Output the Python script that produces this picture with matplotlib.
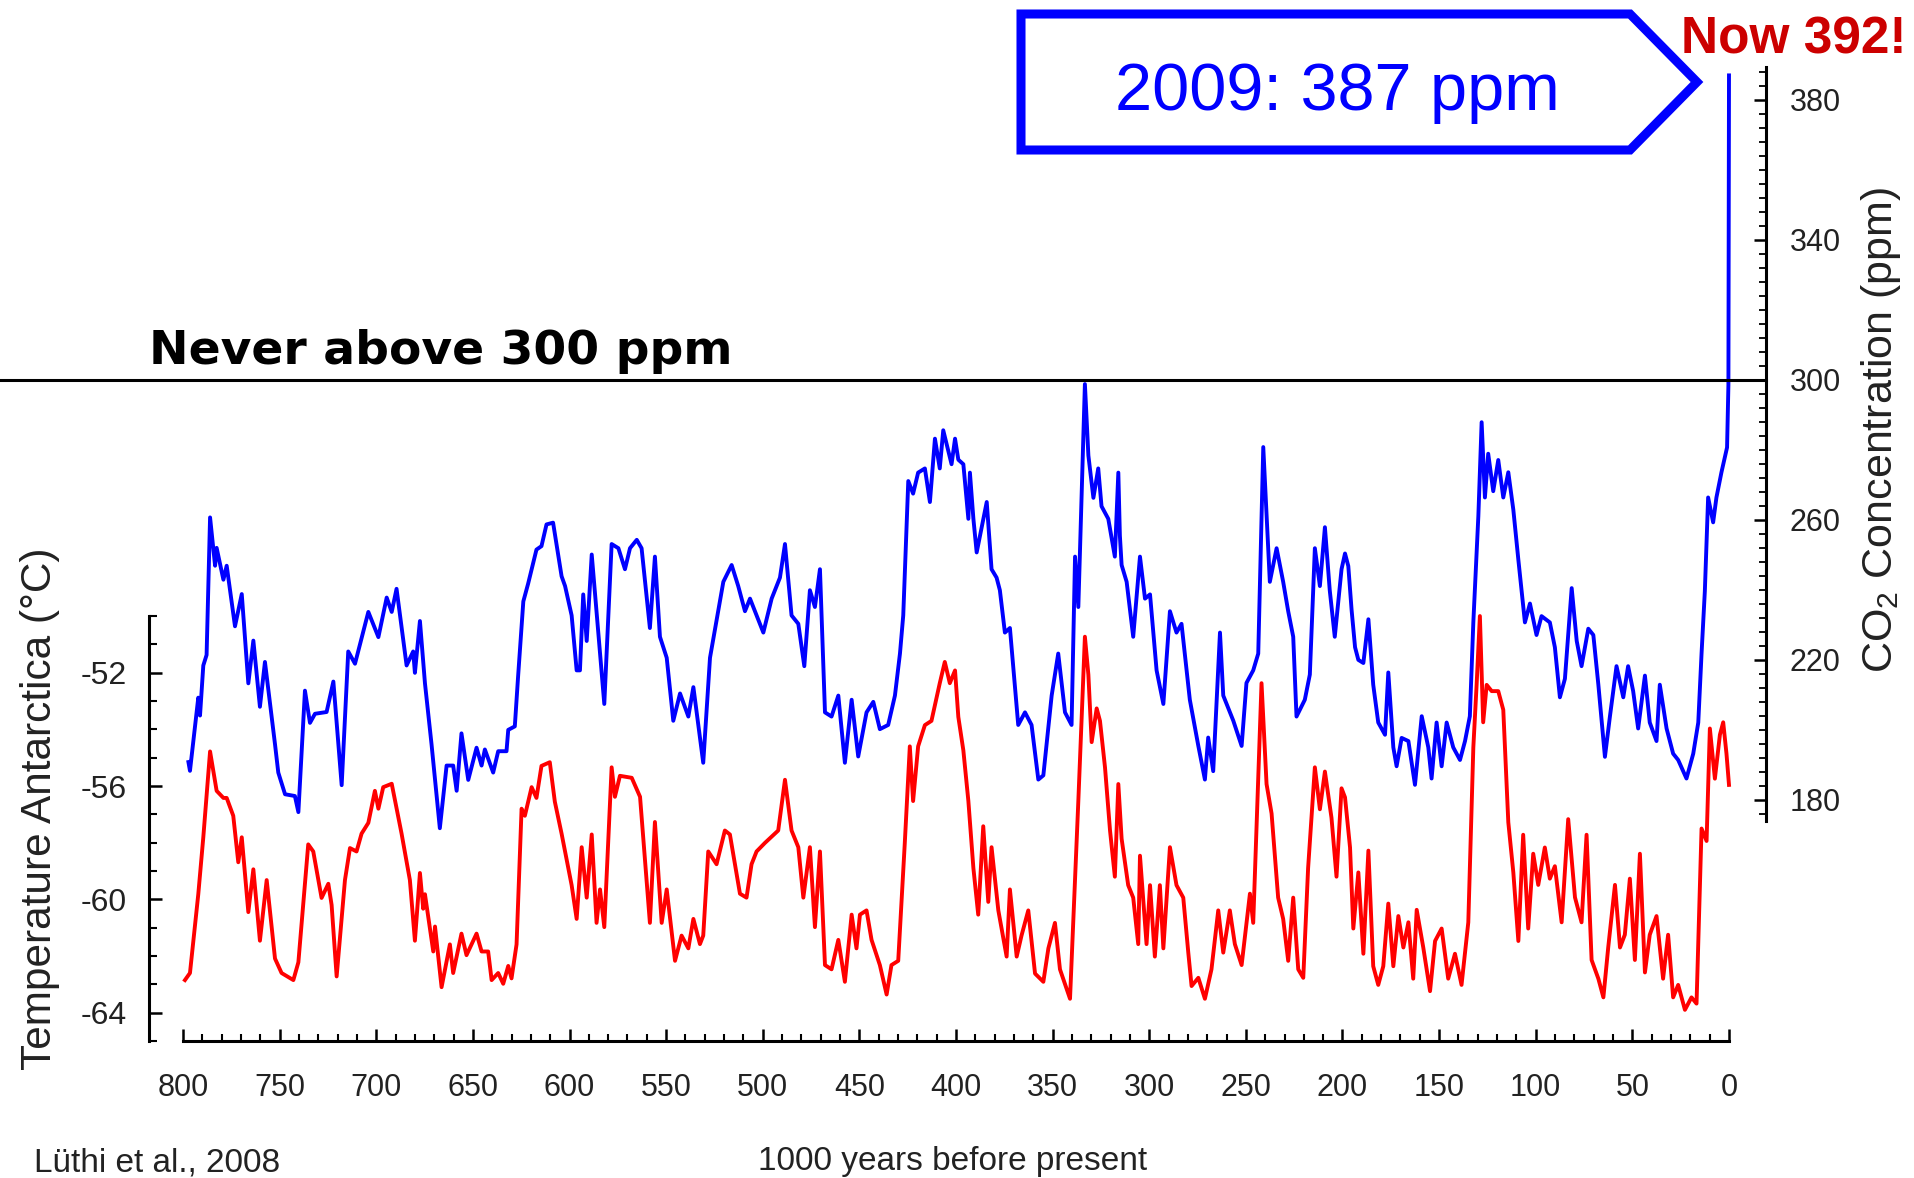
import numpy as np
import matplotlib
matplotlib.use("Agg")
import matplotlib.pyplot as plt
from matplotlib.ticker import FixedLocator
from matplotlib.patches import Polygon

# EPICA Dome C records, ages in kyr before present
co2_age = [
    797.2, 796.4, 792.1, 791.2, 789.5, 787.8, 786.0, 783.4, 782.6, 779.1,
    777.4, 773.1, 769.6, 766.2, 763.6, 760.2, 757.6, 752.4, 750.7, 747.2,
    742.1, 740.3, 736.9, 734.3, 731.7, 725.7, 722.2, 717.9, 714.5, 711.0,
    704.1, 698.9, 694.6, 692.0, 689.5, 684.3, 680.9, 680.0, 677.4, 674.8,
    671.4, 667.1, 663.6, 660.2, 658.4, 655.9, 652.4, 648.1, 645.5, 643.8,
    639.5, 636.9, 632.6, 631.7, 628.3, 626.6, 623.9, 621.4, 617.1, 614.5,
    611.9, 608.5, 604.1,
    602.3, 598.9, 596.3, 594.6, 592.9, 591.1, 588.5, 585.1, 582.0, 578.2,
    574.7, 571.3, 568.7, 565.2, 562.7, 558.4, 555.8, 553.2, 549.7, 546.3,
    542.8, 538.5, 535.9, 530.8, 527.3, 520.4, 516.1, 512.7, 509.2, 506.6,
    499.7, 495.4, 491.1, 488.5, 485.1, 481.6, 478.5, 475.6, 473.0, 470.4,
    467.8, 464.4, 460.9, 457.5, 454.0, 450.6, 446.3, 442.8, 439.4, 435.1,
    431.6, 429.0, 427.3, 424.7, 422.2, 419.6, 416.1, 413.5, 410.9, 408.4,
    406.6, 402.3,
    400.5, 398.8, 396.2, 393.6, 392.8, 391.0, 389.3, 386.7, 384.1, 381.6,
    379.0, 377.3, 374.7, 372.1, 367.8, 364.3, 360.9, 357.4, 354.8, 350.5,
    347.1, 343.6, 340.2, 338.4, 336.7, 333.3, 331.5, 328.9, 326.4, 324.7,
    321.2, 317.8, 316.0, 315.2, 314.3, 311.7, 308.3, 304.8, 302.2, 299.6,
    296.2, 292.7, 289.3, 285.9, 283.3, 279.0, 274.6, 271.2, 269.5, 266.9,
    263.4, 261.7, 256.5, 252.2, 249.7, 246.2, 243.6, 241.0, 237.6, 234.1,
    230.7, 228.1, 225.5, 223.8, 219.5, 216.9, 214.3, 211.7, 209.1, 206.6,
    204.0, 200.5,
    198.7, 197.0, 195.3, 193.5, 191.8, 189.2, 186.6, 184.1, 181.5, 178.0,
    176.3, 173.7, 172.0, 169.4, 165.9, 162.5, 159.0, 155.6, 153.9, 151.3,
    148.7, 146.1, 142.7, 139.2, 136.6, 134.1, 132.3, 129.7, 128.0, 126.3,
    124.6, 122.0, 119.4, 116.8, 114.2, 111.6, 109.0, 105.6, 103.0, 99.6,
    97.0, 92.7, 90.1, 87.5, 84.9, 81.4, 78.8, 76.3, 72.8, 70.2,
    67.6, 64.2, 61.6, 58.2, 54.7, 52.2, 49.6, 47.0, 43.5, 41.0,
    37.5, 35.8, 32.3, 28.9, 26.3, 22.0, 18.5, 15.9, 14.2, 12.5,
    10.8, 8.2, 6.5, 3.9, 1.0, 0.3, 0.0,
]
co2_ppm = [
    190.8, 188.3, 209.2, 204.1, 218.4, 221.4, 260.7, 246.9, 252.0, 242.9,
    246.9, 229.6, 238.8, 213.3, 225.5, 206.6, 219.4, 195.9, 187.8, 181.6,
    181.1, 176.5, 211.2, 202.0, 204.6, 205.1, 213.8, 184.2, 222.4, 218.9,
    233.7, 226.5, 237.8, 233.7, 240.3, 218.4, 222.4, 216.3, 231.1, 213.3,
    195.9, 171.9, 189.8, 189.8, 182.6, 199.0, 185.7, 194.9, 189.8, 194.4,
    187.8, 193.9, 193.9, 200.0, 201.0, 215.3, 236.7, 241.8, 251.5, 252.5,
    258.7, 259.2, 243.9,
    241.1, 232.7, 217.0, 217.0, 238.7, 225.4, 250.1, 227.8, 207.4, 253.1,
    251.9, 245.9, 251.9, 254.3, 251.9, 229.1, 249.5, 226.6, 220.6, 202.6,
    210.4, 203.8, 212.2, 190.6, 220.6, 242.3, 247.1, 241.1, 233.9, 237.5,
    227.8, 237.5, 243.5, 253.1, 232.7, 230.3, 218.2, 239.9, 235.1, 245.9,
    205.0, 203.8, 209.8, 190.6, 208.6, 192.4, 205.0, 208.0, 200.2, 201.4,
    209.8, 221.8, 232.7, 271.1, 267.5, 273.5, 274.7, 265.1, 283.2, 274.7,
    285.6, 275.9,
    283.2, 277.2, 275.9, 260.3, 273.5, 260.3, 250.7, 257.9, 265.1, 245.9,
    243.5, 239.9, 227.8, 229.1, 201.4, 205.0, 201.4, 185.8, 187.0, 209.8,
    221.8, 205.0, 201.4, 249.5, 235.1, 298.8, 278.4, 266.3, 274.7, 263.9,
    260.3, 249.5, 273.5, 255.5, 247.1, 242.3, 226.6, 249.5, 237.5, 238.7,
    217.0, 207.4, 233.9, 227.8, 230.3, 208.6, 195.4, 185.8, 197.8, 188.2,
    227.8, 209.8, 202.6, 195.4, 213.4, 217.0, 221.8, 280.8, 242.3, 251.9,
    242.3, 233.9, 226.6, 203.8, 208.6, 215.8, 251.9, 241.1, 257.9, 239.9,
    226.6, 245.9,
    250.4, 246.8, 234.3, 223.6, 220.0, 219.1, 231.6, 212.9, 202.1, 198.6,
    216.4, 195.0, 189.6, 197.7, 196.8, 184.3, 203.9, 195.0, 186.1, 202.1,
    189.6, 202.1, 195.0, 191.4, 196.8, 203.9, 230.7, 261.1, 287.9, 266.4,
    278.9, 268.2, 277.1, 266.4, 273.6, 262.9, 248.6, 230.7, 236.1, 227.1,
    232.5, 230.7, 223.6, 209.3, 214.6, 240.5, 225.4, 218.2, 228.9, 227.1,
    212.9, 192.3, 203.9, 218.2, 209.3, 218.2, 211.1, 200.4, 215.5, 202.1,
    196.8, 212.9, 200.4, 193.2, 191.4, 186.1, 193.2, 202.1, 221.8, 239.6,
    266.4, 259.3, 266.4, 273.6, 280.7, 298.6, 387.0,
]

temp_age = [
    799.0, 796.4, 792.1, 789.5, 786.0, 782.6, 779.1, 777.4, 774.0, 771.4,
    769.6, 766.2, 763.6, 760.2, 756.7, 752.4, 749.0, 742.9, 740.3, 735.2,
    732.6, 728.3, 724.8, 723.1, 720.5, 716.2, 713.6, 710.2, 707.6, 704.1,
    700.7, 698.9, 696.4, 692.0, 686.9, 682.6, 680.0, 677.4, 675.7, 674.8,
    670.5, 669.6, 666.2, 661.9, 660.2, 655.9, 653.3, 648.1, 645.5, 642.1,
    640.3, 636.9, 634.3, 631.7, 630.0, 627.4, 624.8, 623.1, 619.6, 617.1,
    614.5, 610.2, 607.6, 604.1,
    602.3, 598.9, 596.3, 593.7, 591.1, 588.5, 586.0, 584.2, 582.0, 578.2,
    576.5, 573.9, 567.8, 563.5, 558.4, 555.8, 552.3, 549.7, 545.4, 542.0,
    538.5, 535.9, 532.5, 530.8, 528.2, 523.9, 519.6, 517.0, 511.8, 508.4,
    505.8, 503.2, 498.9, 492.0, 488.5, 485.1, 481.6, 479.0, 475.6, 473.0,
    470.4, 467.8, 464.4, 460.9, 457.5, 454.0, 451.5, 449.7, 446.3, 443.7,
    439.4, 435.9, 433.4, 429.9, 426.5, 423.9, 422.2, 419.6, 416.1, 412.7,
    408.4, 405.8, 403.2,
    400.5, 398.8, 396.2, 393.6, 391.0, 388.5, 385.9, 383.3, 381.6, 378.1,
    373.8, 372.1, 368.6, 366.1, 362.6, 359.1, 354.8, 352.2, 348.8, 346.2,
    341.0, 336.7, 333.3, 331.5, 329.8, 327.2, 325.5, 322.9, 320.3, 317.8,
    316.0, 314.3, 310.9, 308.3, 305.7, 304.8, 301.4, 299.6, 297.1, 294.5,
    292.7, 289.3, 285.9, 282.4, 279.8, 278.1, 274.6, 271.2, 267.8, 264.3,
    261.7, 258.3, 255.7, 252.2, 247.9, 246.2, 241.9, 239.3, 236.7, 233.3,
    230.7, 228.1, 225.5, 222.9, 220.3, 217.8, 214.3, 211.7, 209.1, 205.7,
    203.1, 200.5,
    198.7, 196.1, 194.4, 191.8, 189.2, 186.6, 184.1, 181.5, 178.9, 176.3,
    173.7, 171.1, 168.5, 165.9, 163.4, 161.6, 158.2, 154.7, 152.1, 148.7,
    145.3, 141.8, 138.4, 134.9, 132.3, 130.6, 128.9, 127.2, 125.4, 122.8,
    119.4, 116.8, 114.2, 111.6, 109.0, 106.5, 103.9, 101.3, 98.7, 95.3,
    92.7, 90.1, 86.6, 83.2, 79.7, 76.3, 73.7, 71.1, 67.6, 65.0,
    62.5, 59.0, 56.4, 53.9, 51.3, 48.7, 46.1, 43.5, 41.0, 37.5,
    34.1, 31.5, 28.9, 26.3, 22.8, 19.4, 16.8, 14.2, 11.6, 9.9,
    7.3, 4.7, 3.0, 1.3, 0.0,
]
temp_c = [
    -62.85, -62.60, -59.82, -57.81, -54.78, -56.17, -56.42, -56.42, -57.05, -58.69,
    -57.81, -60.45, -58.94, -61.46, -59.32, -62.09, -62.60, -62.85, -62.22, -58.06,
    -58.31, -59.95, -59.45, -60.20, -62.72, -59.32, -58.19, -58.31, -57.68, -57.30,
    -56.17, -56.80, -56.04, -55.92, -57.68, -59.32, -61.46, -59.07, -60.33, -59.82,
    -61.84, -60.96, -63.10, -61.59, -62.60, -61.21, -61.97, -61.21, -61.84, -61.84,
    -62.85, -62.60, -62.98, -62.35, -62.79, -61.59, -56.80, -57.05, -56.04, -56.42,
    -55.29, -55.16, -56.55, -57.68,
    -58.31, -59.50, -60.69, -58.16, -59.94, -57.71, -60.83, -59.65, -60.98, -55.34,
    -56.38, -55.64, -55.71, -56.38, -60.83, -57.27, -60.83, -59.65, -62.17, -61.28,
    -61.73, -60.69, -61.58, -61.28, -58.31, -58.76, -57.57, -57.71, -59.80, -59.94,
    -58.76, -58.31, -58.01, -57.57, -55.78, -57.57, -58.16, -59.94, -58.16, -60.98,
    -58.31, -62.32, -62.47, -61.43, -62.91, -60.54, -61.73, -60.54, -60.39, -61.43,
    -62.32, -63.36, -62.32, -62.17, -58.01, -54.60, -56.53, -54.60, -53.85, -53.70,
    -52.37, -51.62, -52.37,
    -51.92, -53.56, -54.74, -56.53, -58.90, -60.54, -57.42, -60.09, -58.16, -60.39,
    -62.02, -59.65, -62.02, -61.28, -60.39, -62.62, -62.91, -61.73, -60.83, -62.47,
    -63.51, -56.53, -50.73, -52.07, -54.45, -53.26, -53.70, -55.34, -57.57, -59.20,
    -55.93, -57.86, -59.50, -59.94, -61.58, -58.46, -61.58, -59.50, -62.02, -59.50,
    -61.73, -58.16, -59.50, -59.94, -61.88, -63.06, -62.77, -63.51, -62.47, -60.39,
    -61.88, -60.39, -61.58, -62.32, -59.80, -60.83, -52.37, -55.93, -56.97, -59.94,
    -60.69, -62.17, -59.94, -62.47, -62.77, -58.90, -55.34, -56.82, -55.49, -57.12,
    -59.20, -56.08,
    -56.40, -58.17, -61.03, -59.05, -61.92, -58.28, -62.36, -63.02, -62.36, -60.15,
    -62.36, -60.59, -61.70, -60.81, -62.80, -60.37, -61.70, -63.24, -61.47, -61.03,
    -62.80, -61.92, -63.02, -60.81, -54.64, -52.43, -50.00, -53.75, -52.43, -52.65,
    -52.65, -53.31, -57.28, -59.05, -61.47, -57.72, -61.03, -58.39, -59.49, -58.17,
    -59.27, -58.83, -60.81, -57.17, -59.93, -60.81, -57.72, -62.14, -62.80, -63.46,
    -61.70, -59.49, -61.70, -61.25, -59.27, -62.14, -58.39, -62.58, -61.25, -60.59,
    -62.80, -61.25, -63.46, -63.02, -63.90, -63.46, -63.68, -57.50, -57.94, -53.97,
    -55.74, -54.19, -53.75, -54.86, -55.96,
]

age_ticks = list(range(0, 801, 50))
temp_ticks = [-64, -60, -56, -52]
co2_ticks = [180, 220, 260, 300, 340, 380]

plt.rcParams["font.family"] = ["Liberation Sans", "DejaVu Sans"]
plt.rcParams["mathtext.default"] = "regular"

W, H = 1915, 1178
fig = plt.figure(figsize=(W / 100, H / 100), dpi=100)
ax = fig.add_axes([149 / W, 137 / H, 1617 / W, 974 / H])
ax2 = ax.twinx()

ax.plot(temp_age, temp_c, color="#ff0000", lw=2.8)
ax2.plot(co2_age, co2_ppm, color="#0000ff", lw=2.8)

ax.set_xlim(817.6, -19.15)
ax.set_ylim(-65.0, -30.62)
ax2.set_ylim(111.1, 389.4)

# spines
for s in ["top", "right"]:
    ax.spines[s].set_visible(False)
for s in ["top", "left", "bottom"]:
    ax2.spines[s].set_visible(False)
ax.spines["left"].set_bounds(-65, -50)
ax.spines["bottom"].set_bounds(0, 800)
ax2.spines["right"].set_bounds(174, 389.4)
for sp in (ax.spines["left"], ax.spines["bottom"], ax2.spines["right"]):
    sp.set_linewidth(2.2)

tick_col = "#222222"
ax.set_xticks(age_ticks)
ax.set_xticklabels([str(a) for a in age_ticks])
ax.xaxis.set_minor_locator(FixedLocator(np.arange(0, 801, 10)))
ax.tick_params(axis="x", which="major", direction="in", length=9, width=1.8,
               pad=23, labelsize=22, labelcolor=tick_col)
ax.tick_params(axis="x", which="minor", direction="in", length=5, width=1.5)

ax.set_yticks(temp_ticks)
ax.set_yticklabels([str(t) for t in temp_ticks])
ax.yaxis.set_minor_locator(FixedLocator(np.arange(-65, -49, 1)))
ax.tick_params(axis="y", which="major", direction="in", length=9, width=1.8,
               pad=16, labelsize=23, labelcolor=tick_col)
ax.tick_params(axis="y", which="minor", direction="in", length=6, width=1.5)

ax2.set_yticks(co2_ticks)
ax2.set_yticklabels([str(c) for c in co2_ticks])
ax2.yaxis.set_minor_locator(FixedLocator(np.arange(176, 389, 4)))
ax2.tick_params(axis="y", which="major", direction="in", length=9, width=1.8,
                pad=17, labelsize=22, labelcolor=tick_col)
ax2.tick_params(axis="y", which="minor", direction="in", length=5, width=1.3)

# axis titles
fig.text(40 / W, 1 - 809 / H, "Temperature Antarctica (°C)", rotation=90,
         ha="center", va="center", fontsize=30.5, color=tick_col)
fig.text(1881 / W, 1 - 430 / H, "CO$_2$ Concentration (ppm)", rotation=90,
         ha="center", va="center", fontsize=31, color=tick_col)
fig.text(953 / W, 8 / H, "1000 years before present", ha="center",
         va="baseline", fontsize=24, color=tick_col)
fig.text(34 / W, 6 / H, "Lüthi et al., 2008", ha="left", va="baseline",
         fontsize=24, color=tick_col)

# pre-industrial ceiling
ax2.axhline(300, xmin=-149 / 1617, xmax=1.0, color="black", lw=2.2, clip_on=False)
fig.text(149 / W, 1 - 364 / H, "Never above 300 ppm", fontsize=34,
         fontweight="bold", family="DejaVu Sans", va="baseline")

# arrow-shaped callout for the 2009 value
box_px = [(1021, 14), (1630, 14), (1697, 82), (1630, 150), (1021, 150)]
box = Polygon([(x / W, 1 - y / H) for x, y in box_px], closed=True, fill=False,
              edgecolor="#0000ff", lw=6.5, joinstyle="miter",
              transform=fig.transFigure)
fig.add_artist(box)
fig.text(1337 / W, 1 - 110 / H, "2009: 387 ppm", ha="center", va="baseline",
         fontsize=48, color="#0000ff")
fig.text(1794 / W, 1 - 54 / H, "Now 392!", ha="center", va="baseline",
         fontsize=37, fontweight="bold", color="#cc0000")

fig.savefig("out.png", dpi=100)
